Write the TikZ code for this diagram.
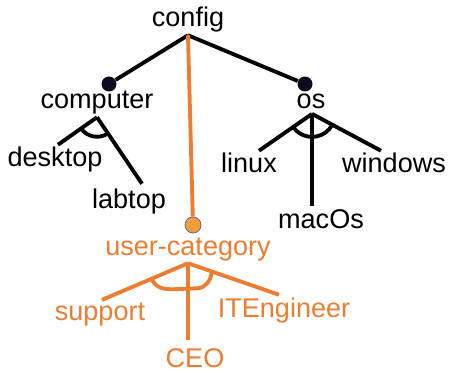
\documentclass[tikz,border=0pt]{standalone}
\usepackage{fontspec}
\setmainfont{Liberation Sans}

\definecolor{featorange}{RGB}{237,125,49}
\definecolor{dotorange}{RGB}{242,157,56}
\definecolor{dotblack}{RGB}{12,12,28}

\begin{document}
\begin{tikzpicture}[x=0.02cm, y=0.02cm,
    feat/.style={anchor=base, inner sep=0pt, outer sep=1.5pt, font=\fontsize{15.4}{18}\selectfont},
    link/.style={line width=2.2pt},
    mand/.style={circle, fill=dotblack, inner sep=0pt, minimum size=0.3cm},
    opt/.style={circle, fill=dotorange, draw=gray!70!blue, line width=0.4pt, inner sep=0pt, minimum size=0.32cm}]
    \useasboundingbox (0,0) rectangle (449,-371);

    % features
    \node[feat] (config) at (188,-27) {config};
    \node[feat] (computer) at (97,-109) {computer};
    \node[feat] (os) at (311,-109) {os};
    \node[feat] (desktop) at (55,-167) {desktop};
    \node[feat] (labtop) at (129,-208) {labtop};
    \node[feat] (linux) at (249,-173) {linux};
    \node[feat] (windows) at (394,-173) {windows};
    \node[feat] (macOs) at (321,-228) {macOs};
    \begin{scope}[every node/.append style={text=featorange}]
        \node[feat] (usercat) at (188,-255) {user-category};
        \node[feat] (support) at (100,-320) {support};
        \node[feat] (CEO) at (195,-367) {CEO};
        \node[feat] (ITEngineer) at (284,-317) {ITEngineer};
    \end{scope}

    % mandatory / optional markers
    \node[mand] (cdot) at (109,-84) {};
    \node[mand] (odot) at (305,-84) {};
    \node[opt] (udot) at (193,-225) {};

    \coordinate (cj) at (computer.south);
    \coordinate (oj) at ([shift={(1,-2)}]os.south);
    \coordinate (uj) at (usercat.south);

    \draw[link] (config.south) -- (cdot);
    \draw[link] (config.south) -- (odot);
    \draw[link, featorange] (config.south) -- (udot);

    % computer: alternative
    \draw[link] (cj) -- ([shift={(3,0)}]desktop.north);
    \draw[link] (cj) -- ([shift={(13,2)}]labtop.north);
    \draw[link] ([shift={(214.7:19.5)}]cj) arc[start angle=214.7, end angle=303.9, radius=19.5];

    % os: alternative
    \draw[link] (oj) -- ([shift={(10,0)}]linux.north);
    \draw[link] (oj) -- ([shift={(-9,0)}]macOs.north);
    \draw[link] (oj) -- ([shift={(-13,0)}]windows.north);
    \draw[link] ([shift={(215.6:23)}]oj) arc[start angle=215.6, end angle=333.1, radius=23];

    % user-category: alternative
    \draw[link, featorange] (uj) -- ([shift={(2,0)}]support.north);
    \draw[link, featorange] (uj) -- ([shift={(-7,5)}]CEO.north);
    \draw[link, featorange] (uj) -- ([shift={(-5,0)}]ITEngineer.north);
    \draw[link, featorange] ([shift={(-37,-15)}]uj) .. controls ([shift={(-32,-24)}]uj) and ([shift={(-27,-26)}]uj) .. ([shift={(-15,-26)}]uj)
        -- ([shift={(10,-25)}]uj) .. controls ([shift={(18,-24)}]uj) and ([shift={(22,-18)}]uj) .. ([shift={(24,-9)}]uj);
\end{tikzpicture}
\end{document}
